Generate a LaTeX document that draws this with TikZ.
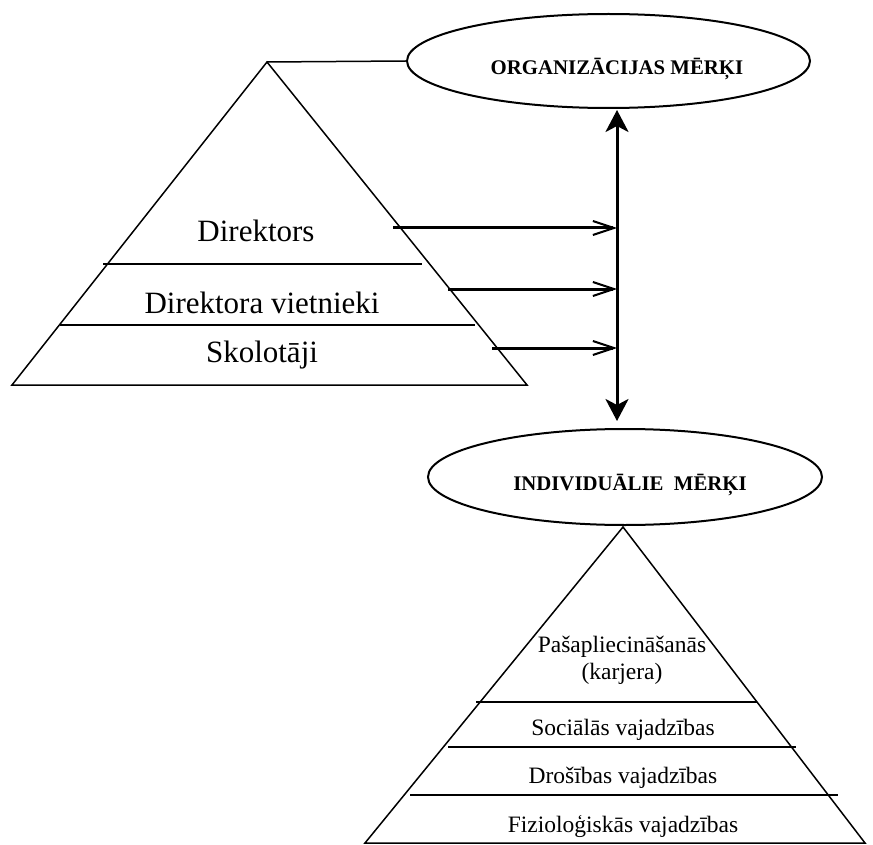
\documentclass[tikz,border=0pt]{standalone}
\usepackage{fontspec}
\setmainfont{Liberation Serif}
\usetikzlibrary{shapes.geometric,arrows.meta}
\tikzset{
  goal/.style={ellipse, draw, line width=2pt, inner sep=0pt},
  goaltext/.style={anchor=base, inner sep=0pt, font=\fontsize{20.8}{24}\selectfont\bfseries},
  pyr/.style={line width=1.5pt, line join=miter},
  ptextbig/.style={anchor=base, inner sep=0pt, font=\fontsize{31}{36}\selectfont},
  ptextsmall/.style={anchor=base, inner sep=0pt, font=\fontsize{23.5}{27}\selectfont},
  harrow/.style={line width=3pt, -{Straight Barb[length=21pt,width=14pt,line width=2pt]}},
  varrow/.style={line width=3pt, {Stealth[length=22pt,width=23pt,inset=6pt]}-{Stealth[length=22pt,width=23pt,inset=6pt]}}
}
\begin{document}
\begin{tikzpicture}[x=1pt,y=-1pt]
\useasboundingbox (0,0) rectangle (873,845);

% goal ellipses
\node[goal, minimum width=403pt, minimum height=94pt] (org) at (608.5,61) {};
\node[goaltext] (orgt) at (617,75) {ORGANIZĀCIJAS MĒRĶI};
\node[goal, minimum width=394pt, minimum height=96pt] (ind) at (625,477) {};
\node[goaltext] (indt) at (630,490) {INDIVIDUĀLIE\hspace{0.25em} MĒRĶI};

% upper pyramid
\coordinate (ua) at (267,62);
\coordinate (ul) at (12,385);
\coordinate (ur) at (527,385);
\draw[pyr] (ul) -- (ua) -- (ur) -- cycle;
\draw[pyr] (ua) -- (org.west);
\coordinate (ud1l) at (103,264); \coordinate (ud1r) at (422,264);
\coordinate (ud2l) at (60,325);  \coordinate (ud2r) at (475,325);
\draw[pyr] (ud1l) -- (ud1r);
\draw[pyr] (ud2l) -- (ud2r);
\node[ptextbig] (dir) at (256,242) {Direktors};
\node[ptextbig] (viet) at (262,313) {Direktora vietnieki};
\node[ptextbig] (skol) at (262,362) {Skolotāji};

% lower pyramid
\coordinate (la) at (623,527);
\coordinate (ll) at (365,843);
\coordinate (lr) at (865,843);
\draw[pyr] (ll) -- (la) -- (lr) -- cycle;
\coordinate (ld1l) at (476,702); \coordinate (ld1r) at (757,702);
\coordinate (ld2l) at (448,747); \coordinate (ld2r) at (796,747);
\coordinate (ld3l) at (410,795); \coordinate (ld3r) at (838,795);
\draw[pyr] (ld1l) -- (ld1r);
\draw[pyr] (ld2l) -- (ld2r);
\draw[pyr] (ld3l) -- (ld3r);
\node[ptextsmall] (pas) at (622,652) {Pašapliecināšanās};
\node[ptextsmall] (kar) at (622,679) {(karjera)};
\node[ptextsmall] (soc) at (623,735) {Sociālās vajadzības};
\node[ptextsmall] (dro) at (623,783) {Drošības vajadzības};
\node[ptextsmall] (fiz) at (623,832) {Fizioloģiskās vajadzības};

% arrows
\coordinate (vt) at (617,110);
\coordinate (vb) at (617,421);
\draw[varrow] (vt) -- (vb);
\coordinate (h1) at (393,228);
\coordinate (h2) at (448,289);
\coordinate (h3) at (492,348);
\draw[harrow] (h1) -- (h1 -| vt);
\draw[harrow] (h2) -- (h2 -| vt);
\draw[harrow] (h3) -- (h3 -| vt);
\end{tikzpicture}
\end{document}
